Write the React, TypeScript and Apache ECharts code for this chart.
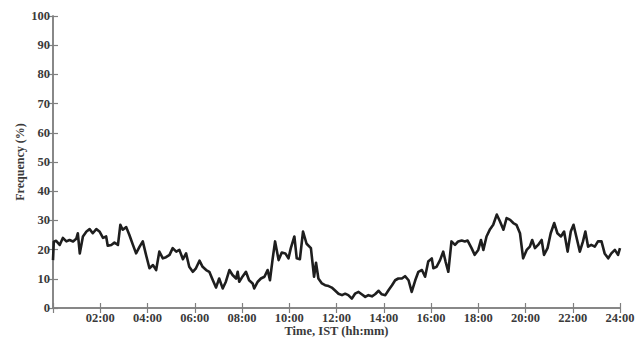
import React, { useEffect, useRef } from "react";
import * as echarts from "echarts";

// minutes since midnight (IST)
const timeMinutes = [
  0, 2, 8, 17, 25, 34, 42, 51, 59, 63, 68, 76, 85, 93, 101, 110, 118, 127, 135, 139,
  148, 156, 165, 171, 177, 186, 194, 203, 211, 220, 228, 237, 245, 254, 262, 270, 279, 287, 296, 304,
  313, 321, 330, 338, 346, 355, 363, 372, 380, 389, 397, 406, 414, 422, 431, 439, 448, 456, 465, 469,
  473, 482, 490, 498, 507, 511, 520, 528, 537, 545, 551, 558, 564, 573, 581, 590, 598, 604, 613, 619,
  627, 635, 644, 655, 663, 668, 674, 683, 691, 700, 708, 717, 725, 734, 742, 750, 759, 767, 776, 784,
  793, 801, 810, 818, 827, 835, 844, 852, 861, 869, 877, 886, 894, 903, 911, 920, 928, 937, 945, 953,
  962, 966, 974, 983, 991, 997, 1004, 1012, 1021, 1029, 1038, 1046, 1053, 1063, 1071, 1080, 1087, 1093, 1101, 1110,
  1118, 1127, 1135, 1144, 1152, 1161, 1169, 1177, 1186, 1194, 1203, 1211, 1217, 1224, 1232, 1241, 1247, 1256, 1264, 1273,
  1281, 1290, 1298, 1307, 1315, 1322, 1329, 1338, 1346, 1352, 1359, 1367, 1376, 1384, 1393, 1401, 1410, 1418, 1427, 1435,
  1440,
];

// frequency (%)
const frequency = [
  16.4, 22.7, 23, 21.6, 24, 22.8, 23.3, 22.8, 23.7, 25.6, 18.7, 24.5, 26.2, 27, 25.6, 27, 26.2, 24, 24.5, 21.3,
  21.6, 22.4, 21.6, 28.5, 26.8, 27.7, 25, 21.6, 18.7, 21, 22.8, 17.8, 13.6, 14.7, 13, 19.3, 17, 17.4, 18.2, 20.5,
  19.3, 19.9, 16.7, 18.7, 14.1, 12.4, 13.6, 16.2, 14.1, 13, 12.4, 9.5, 7, 10.1, 6.7, 9, 13, 11.3, 10.1, 12.4,
  9, 10.9, 12.4, 9.5, 8.4, 6.7, 9, 10.1, 10.7, 13, 9.5, 17, 22.8, 16.4, 19, 18.7, 17, 20.5, 24.5, 17,
  16.7, 26.2, 22, 20.5, 10.7, 15.5, 10.1, 8.4, 7.8, 7.5, 7, 5.9, 4.9, 4.4, 4.9, 4.4, 3.2, 4.9, 5.5, 4.7,
  3.8, 4.4, 4, 4.7, 5.9, 4.7, 4.4, 6.1, 7.8, 9.5, 10.1, 10.1, 10.9, 9.5, 5.5, 9.5, 12.4, 13, 10.7, 15.9,
  17, 13.6, 14.1, 16.4, 19.3, 15.9, 12.4, 22.8, 21.6, 22.8, 23.1, 22.8, 23.1, 20.5, 18.2, 19.9, 23.3, 19.9, 24.5, 27,
  28.5, 32, 29.7, 26.8, 30.8, 30.2, 29.1, 28.5, 25.6, 17, 19.9, 21, 23.3, 20.5, 21.6, 23.3, 18.2, 20.5, 25.6, 29.1,
  25.6, 24.5, 26.2, 19.3, 26.2, 28.5, 24.5, 19.3, 22.8, 26.2, 21, 21.6, 21, 22.8, 22.8, 18.7, 17, 18.7, 19.9, 18.2,
  20.5,
];

const xTickStep = 120;
const yTicks = [0, 10, 20, 30, 40, 50, 60, 70, 80, 90, 100];

const pad2 = (n: number) => (n < 10 ? "0" + n : String(n));

export default function App() {
  const ref = useRef<HTMLDivElement>(null);

  useEffect(() => {
    if (!ref.current) return;
    const chart = echarts.init(ref.current, null, { renderer: "svg" });
    const font = "'Liberation Serif', 'Times New Roman', serif";
    const axisLine = { show: true, lineStyle: { color: "#808080", width: 1.5 } };
    const tick = { show: true, inside: true, length: 5, lineStyle: { color: "#808080", width: 1.2 } };
    const data = timeMinutes.map((t, i) => [t, frequency[i]]);
    chart.setOption({
      animation: false,
      backgroundColor: "#ffffff",
      grid: { left: 53, right: 16, top: 16, bottom: 30, containLabel: false, outerBoundsMode: "none" },
      xAxis: [
        {
          type: "value",
          position: "bottom",
          min: 0,
          max: 1440,
          interval: xTickStep,
          axisLine,
          axisTick: tick,
          splitLine: { show: false },
          axisLabel: {
            margin: 3,
            color: "#3a3a3a",
            fontFamily: font,
            fontWeight: "bold",
            fontSize: 12.5,
            formatter: (v: number) => (v === 0 ? "" : pad2(Math.round(v / 60)) + ":00"),
          },
          name: "Time, IST (hh:mm)",
          nameLocation: "middle",
          nameGap: 16,
          nameMoveOverlap: false,
          nameTextStyle: {
            color: "#3a3a3a",
            fontFamily: font,
            fontWeight: "bold",
            fontSize: 12.5,
            verticalAlign: "top",
          },
        },
        {
          type: "value",
          position: "top",
          min: 0,
          max: 1440,
          interval: xTickStep,
          axisLine,
          axisTick: tick,
          splitLine: { show: false },
          axisLabel: { show: false },
        },
      ],
      yAxis: [
        {
          type: "value",
          position: "left",
          min: yTicks[0],
          max: yTicks[yTicks.length - 1],
          interval: 10,
          axisLine,
          axisTick: tick,
          splitLine: { show: false },
          axisLabel: {
            margin: 3,
            color: "#3a3a3a",
            fontFamily: font,
            fontWeight: "bold",
            fontSize: 12.5,
          },
          name: "Frequency (%)",
          nameLocation: "middle",
          nameGap: 27,
          nameMoveOverlap: false,
          nameTextStyle: { color: "#3a3a3a", fontFamily: font, fontWeight: "bold", fontSize: 12 },
        },
        {
          type: "value",
          position: "right",
          min: yTicks[0],
          max: yTicks[yTicks.length - 1],
          interval: 10,
          axisLine,
          axisTick: tick,
          splitLine: { show: false },
          axisLabel: { show: false },
        },
      ],
      series: [
        {
          type: "line",
          data,
          xAxisIndex: 0,
          yAxisIndex: 0,
          showSymbol: false,
          symbol: "none",
          lineStyle: { color: "#1e1e1e", width: 2.6, join: "round" },
          z: 5,
        },
      ],
    });
    return () => chart.dispose();
  }, []);

  return (
    <div
      ref={ref}
      style={{ position: "fixed", left: 0, top: 0, width: 636, height: 338, background: "#fff" }}
    />
  );
}
